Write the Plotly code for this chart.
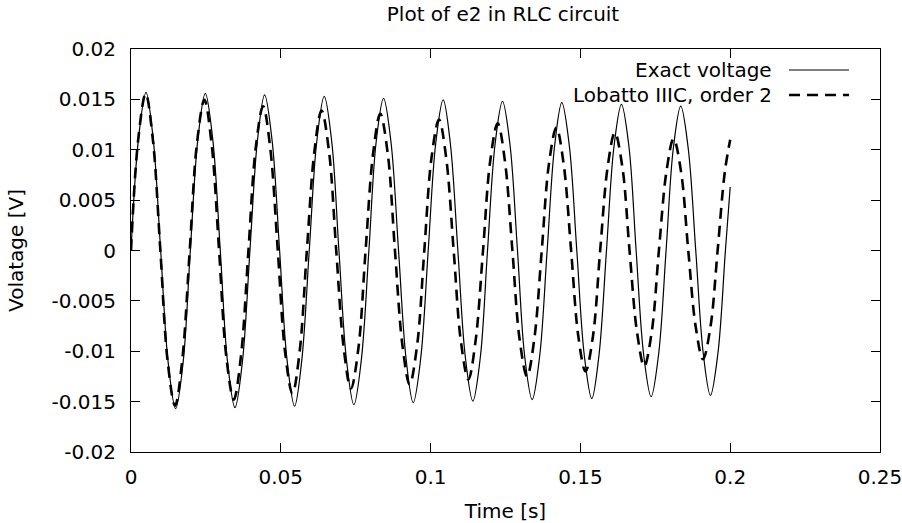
import plotly.graph_objects as go

# ---------------- data ----------------
t_exact = [
    0.0000, 0.0025, 0.0050, 0.0074,
    0.0099, 0.0124, 0.0149, 0.0174,
    0.0198, 0.0223, 0.0248, 0.0273,
    0.0298, 0.0322, 0.0347, 0.0372,
    0.0397, 0.0422, 0.0446, 0.0471,
    0.0496, 0.0521, 0.0546, 0.0570,
    0.0595, 0.0620, 0.0645, 0.0670,
    0.0694, 0.0719, 0.0744, 0.0769,
    0.0794, 0.0818, 0.0843, 0.0868,
    0.0893, 0.0918, 0.0942, 0.0967,
    0.0992, 0.1017, 0.1042, 0.1066,
    0.1091, 0.1116, 0.1141, 0.1166,
    0.1190, 0.1215, 0.1240, 0.1265,
    0.1290, 0.1314, 0.1339, 0.1364,
    0.1389, 0.1414, 0.1438, 0.1463,
    0.1488, 0.1513, 0.1538, 0.1562,
    0.1587, 0.1612, 0.1637, 0.1662,
    0.1686, 0.1711, 0.1736, 0.1761,
    0.1786, 0.1810, 0.1835, 0.1860,
    0.1885, 0.1910, 0.1934, 0.1959,
    0.1984, 0.2000,
]
v_exact = [
    0.0, 0.0111, 0.0157, 0.0111,
    0.0, -0.0111, -0.0157, -0.0111,
    0.0, 0.0110, 0.0156, 0.0110,
    0.0, -0.0110, -0.0156, -0.0110,
    0.0, 0.0109, 0.01545, 0.0109,
    0.0, -0.0109, -0.01545, -0.0109,
    0.0, 0.0108, 0.0153, 0.0108,
    0.0, -0.0108, -0.0153, -0.0108,
    0.0, 0.0107, 0.0151, 0.0107,
    0.0, -0.0107, -0.0151, -0.0107,
    0.0, 0.0106, 0.01495, 0.0106,
    0.0, -0.0106, -0.01495, -0.0106,
    0.0, 0.0105, 0.0148, 0.0105,
    0.0, -0.0105, -0.0148, -0.0105,
    0.0, 0.0104, 0.01467, 0.0104,
    0.0, -0.0104, -0.0147, -0.0104,
    0.0, 0.0103, 0.0145, 0.0103,
    0.0, -0.0103, -0.0145, -0.0103,
    0.0, 0.0101, 0.01433, 0.0101,
    0.0, -0.0102, -0.01438, -0.0102,
    0.0, 0.0063,
]

t_lobatto = [
    0.0000, 0.0024, 0.0049, 0.0073,
    0.0098, 0.0122, 0.0147, 0.0171,
    0.0196, 0.0220, 0.0245, 0.0269,
    0.0294, 0.0318, 0.0343, 0.0367,
    0.0392, 0.0416, 0.0441, 0.0465,
    0.0490, 0.0514, 0.0539, 0.0563,
    0.0587, 0.0612, 0.0636, 0.0661,
    0.0685, 0.0710, 0.0734, 0.0759,
    0.0783, 0.0808, 0.0832, 0.0857,
    0.0881, 0.0906, 0.0930, 0.0955,
    0.0979, 0.1003, 0.1028, 0.1052,
    0.1077, 0.1101, 0.1126, 0.1150,
    0.1175, 0.1199, 0.1224, 0.1248,
    0.1273, 0.1297, 0.1322, 0.1346,
    0.1371, 0.1395, 0.1420, 0.1444,
    0.1469, 0.1493, 0.1517, 0.1542,
    0.1566, 0.1591, 0.1615, 0.1640,
    0.1664, 0.1689, 0.1713, 0.1738,
    0.1762, 0.1787, 0.1811, 0.1836,
    0.1860, 0.1885, 0.1909, 0.1934,
    0.1958, 0.1982, 0.2000,
]
v_lobatto = [
    0.0, 0.0110, 0.01555, 0.0110,
    0.0, -0.0109, -0.0154, -0.0109,
    0.0, 0.0106, 0.01495, 0.0106,
    0.0, -0.0105, -0.0148, -0.0105,
    0.0, 0.0101, 0.01432, 0.0101,
    0.0, -0.0100, -0.0142, -0.0100,
    0.0, 0.0098, 0.0139, 0.0098,
    0.0, -0.0097, -0.0137, -0.0097,
    0.0, 0.0096, 0.01356, 0.0096,
    0.0, -0.0094, -0.0133, -0.0094,
    0.0, 0.0092, 0.0130, 0.0092,
    0.0, -0.0090, -0.0128, -0.0090,
    0.0, 0.0089, 0.01263, 0.0089,
    0.0, -0.0088, -0.0125, -0.0088,
    0.0, 0.0086, 0.0122, 0.0086,
    0.0, -0.0085, -0.0120, -0.0085,
    0.0, 0.0083, 0.0117, 0.0083,
    0.0, -0.0081, -0.0115, -0.0081,
    0.0, 0.0078, 0.0111, 0.0078,
    0.0, -0.0076, -0.0108, -0.0076,
    0.0, 0.0078, 0.0110,
]

x_ticks = [0, 0.05, 0.1, 0.15, 0.2, 0.25]
x_ticklabels = ["0", "0.05", "0.1", "0.15", "0.2", "0.25"]
y_ticks = [-0.02, -0.015, -0.01, -0.005, 0, 0.005, 0.01, 0.015, 0.02]
y_ticklabels = ["-0.02", "-0.015", "-0.01", "-0.005", "0", "0.005", "0.01", "0.015", "0.02"]

series_names = ["Exact voltage", "Lobatto IIIC, order 2"]

# ---------------- figure ----------------
W, H = 902, 523
ML, MR, MT, MB = 131, 22, 49, 71
PW, PH = W - ML - MR, H - MT - MB
FONT = "DejaVu Sans"
FS = 20
TXT = dict(family=FONT, size=FS, color="black")


def px_x(p):
    return (p - ML) / PW


def px_y(p):
    return (H - MB - p) / PH


fig = go.Figure()
fig.add_trace(go.Scatter(
    x=t_exact, y=v_exact, mode="lines", name=series_names[0],
    line=dict(color="black", width=1.2, shape="spline", smoothing=1.0),
    showlegend=False, hoverinfo="skip",
))
fig.add_trace(go.Scatter(
    x=t_lobatto, y=v_lobatto, mode="lines", name=series_names[1],
    line=dict(color="black", width=2.6, dash="11px,7px", shape="spline", smoothing=1.0),
    showlegend=False, hoverinfo="skip",
))

axis_common = dict(
    showline=True, linecolor="black", linewidth=1, mirror="allticks",
    ticks="inside", ticklen=9, tickwidth=1, tickcolor="black",
    showgrid=False, zeroline=False, automargin=False,
    ticklabeloverflow="allow",
    tickfont=TXT,
)

fig.update_layout(
    width=W, height=H,
    margin=dict(l=ML, r=MR, t=MT, b=MB, autoexpand=False),
    paper_bgcolor="white", plot_bgcolor="white",
    font=TXT,
    title=dict(text="Plot of e2 in RLC circuit", xref="container", x=503 / W,
               xanchor="center", yref="container", y=1 - 14 / H, yanchor="middle",
               font=TXT),
    xaxis=dict(range=[0, 0.25], tickvals=x_ticks, ticktext=x_ticklabels, ticklabelstandoff=7,
               title=dict(text="Time [s]", standoff=17, font=TXT), **axis_common),
    yaxis=dict(range=[-0.02, 0.02], tickvals=y_ticks, ticktext=y_ticklabels, ticklabelstandoff=10,
               title=dict(text="Volatage [V]", standoff=22, font=TXT), **axis_common),
    showlegend=False,
)

# legend drawn gnuplot-style: text right-aligned, sample line to the right
legend_rows = [(70, dict(color="black", width=1.2)),
               (95, dict(color="black", width=2.6, dash="11px,7px"))]
for name, (ypix, ln) in zip(series_names, legend_rows):
    fig.add_annotation(text=name, xref="paper", yref="paper",
                       x=px_x(774), y=px_y(ypix), xanchor="right", yanchor="middle",
                       showarrow=False, font=TXT)
    fig.add_shape(type="line", xref="paper", yref="paper",
                  x0=px_x(789), x1=px_x(849), y0=px_y(ypix), y1=px_y(ypix), line=ln)

fig.write_html("out.html", config={"displayModeBar": False},
               post_script="document.body.style.margin='0';")
